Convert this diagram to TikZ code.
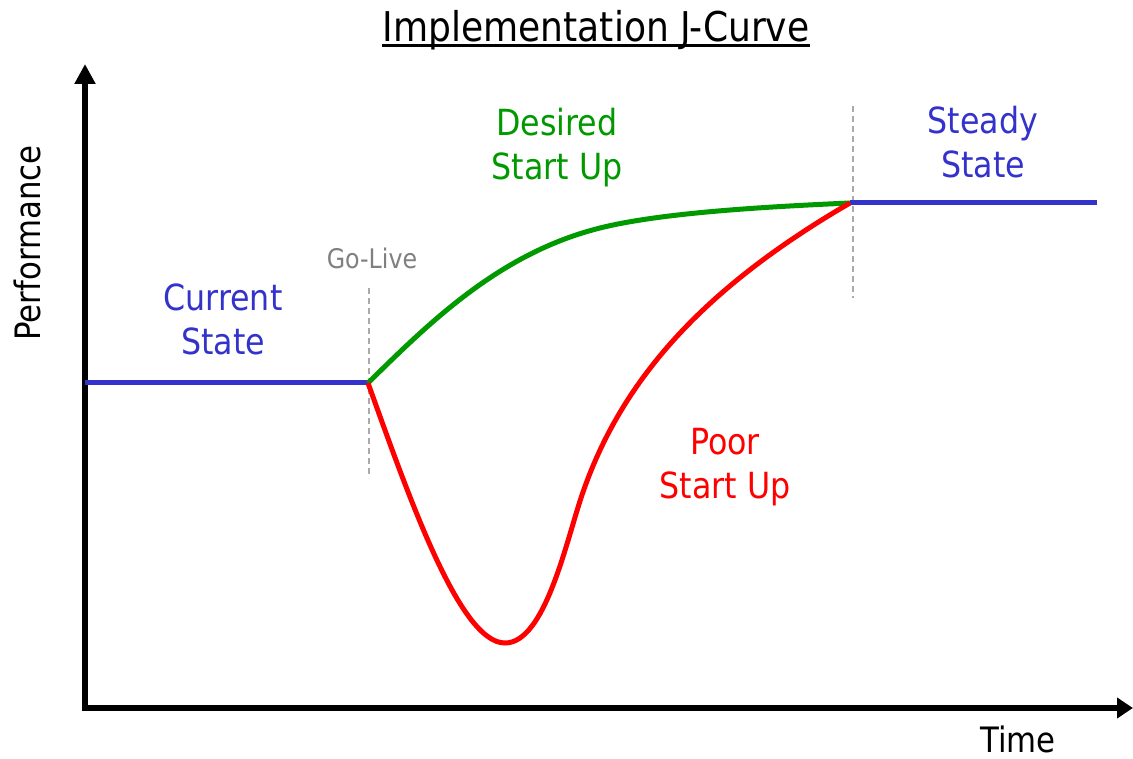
\documentclass[tikz,border=0pt]{standalone}
\usepackage{fontspec}
\setmainfont{DejaVu Sans}[FakeStretch=0.88]
\usetikzlibrary{arrows.meta,calc}
\definecolor{stateblue}{HTML}{3333CC}
\definecolor{goodgreen}{HTML}{009900}
\definecolor{poorred}{HTML}{FF0000}
\definecolor{markgray}{HTML}{AAAAAA}
\definecolor{textgray}{HTML}{808080}
\tikzset{
  axis/.style={line width=5.5pt, black},
  level/.style={line width=5pt, stateblue},
  good/.style={line width=5pt, goodgreen},
  poor/.style={line width=5pt, poorred},
  marker/.style={line width=1.8pt, markgray, dash pattern=on 6pt off 4pt},
  lbl/.style={font=\fontsize{36}{44}\selectfont, align=center, inner sep=0pt},
  axislbl/.style={font=\fontsize{35}{42}\selectfont, inner sep=0pt},
}
\begin{document}
\begin{tikzpicture}[x=1pt, y=-1pt]
\useasboundingbox (0,0) rectangle (1133,759);

% title with underline
\node[font=\fontsize{41}{48}\selectfont, inner sep=0pt, anchor=base] (title) at (596,42) {Implementation J-Curve};
\draw[line width=3pt] ($(title.base west)+(0,4)$) -- ($(title.base east)+(0,4)$);

% axes
\coordinate (ytop) at (85,64);
\coordinate (origin) at (85,708);
\coordinate (xend) at (1133,708);
\draw[axis, {Triangle[length=20pt,width=20pt]}-{Triangle[length=16pt,width=20pt]}] (ytop) -- (origin) -- (xend);
\node[axislbl, rotate=90] (perf) at (27,243) {Performance};
\node[axislbl] (time) at (1018,739) {Time};

% milestone markers
\coordinate (golive) at (368,383);
\coordinate (steady) at (850,203);
\draw[marker] (369,288) -- (369,478);
\draw[marker] (853,106) -- (853,298);
\node[font=\fontsize{27}{32}\selectfont, text=textgray, inner sep=0pt] (golbl) at (372,258) {Go-Live};

% performance levels
\coordinate (left) at (85,383);
\coordinate (right) at (1097,203);
\draw[level] (left) -- (golive);
\draw[level] (steady) -- (right);

% desired start-up
\draw[good] (golive) .. controls (430,322) and (500,253) .. (600,228)
  .. controls (660,213) and (760,207) .. (steady);

% poor start-up (the J), joined at its inflection point
\draw[poor] (golive) .. controls (410,500) and (460,643) .. (505,643)
  .. controls (545,643) and (566,542) .. (582,495)
  .. controls (620,383) and (700,290) .. (steady);

% labels
\node[lbl, text=stateblue] (cur) at (223,319) {Current\\State};
\node[lbl, text=stateblue] (ss) at (983,142) {Steady\\State};
\node[lbl, text=goodgreen] (des) at (557,148) {Desired\\Start Up};
\node[lbl, text=poorred] (poorlbl) at (725,467) {Poor\\Start Up};
\end{tikzpicture}
\end{document}
